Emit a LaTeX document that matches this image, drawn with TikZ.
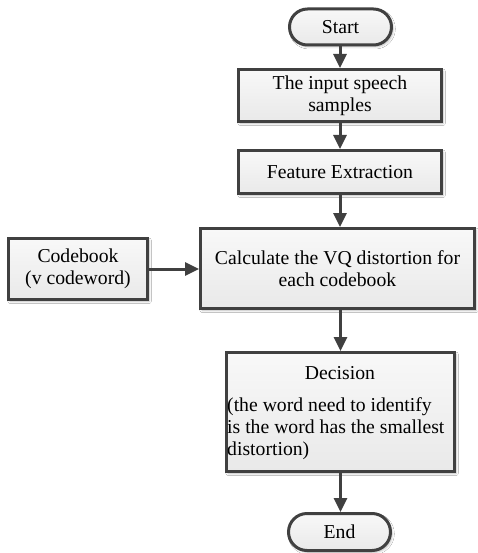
\documentclass[tikz,border=0pt]{standalone}
\usepackage{fontspec}
\setmainfont{Liberation Serif}
\usetikzlibrary{arrows.meta,shadows.blur,shapes.misc}
\definecolor{edge}{HTML}{404040}
\definecolor{boxtop}{HTML}{F8F8F8}
\definecolor{boxbot}{HTML}{E9E9E9}
\tikzset{
  base/.style={draw=edge, line width=3pt, top color=boxtop, bottom color=boxbot,
    blur shadow={shadow xshift=1.6pt, shadow yshift=-1.8pt, shadow blur radius=2.2pt, shadow opacity=28},
    font=\fontsize{19.7}{22}\selectfont, align=center, inner sep=0pt},
  procbox/.style={base, rectangle},
  term/.style={base, rounded rectangle},
  flow/.style={draw=edge, line width=3pt, -{Triangle[length=14pt,width=13pt]}},
  plain/.style={font=\fontsize{19.7}{22}\selectfont, inner sep=0pt}
}
\begin{document}
\begin{tikzpicture}[x=1pt,y=-1pt]
\useasboundingbox[fill=white] (0,0) rectangle (478,553);

% terminals and processing steps
\node[term, minimum width=102pt, minimum height=36pt] (start) at (340.5,27) {Start};
\node[procbox, minimum width=203pt, minimum height=52pt] (input) at (340,95.5) {The input speech\\samples};
\node[procbox, minimum width=203pt, minimum height=43pt] (feat) at (340,172) {Feature Extraction};
\node[procbox, minimum width=139pt, minimum height=61pt] (code) at (78,269) {Codebook\\(v codeword)};
\node[procbox, minimum width=274pt, minimum height=80pt] (calc) at (337.5,268.5) {Calculate the VQ distortion for\\each codebook};
\node[procbox, minimum width=228pt, minimum height=119pt] (dec) at (340.5,412) {};
\node[term, minimum width=102pt, minimum height=37pt] (end) at (339.5,532) {End};

% text of the decision step (base of a multi-line node is its last line)
\node[plain, anchor=base] (dectitle) at (340,379) {Decision};
\node[plain, anchor=base west, align=left] (decbody) at (227,455)
  {(the word need to identify\\is the word has the smallest\\distortion)};

% connectors
\draw[flow] (start.south -| input.north) -- (input.north);
\draw[flow] (input.south) -- (feat.north);
\draw[flow] (feat.south) -- (feat.south |- calc.north);
\draw[flow] (code.east) -- (code.east -| calc.west);
\draw[flow] (dec.north |- calc.south) -- (dec.north);
\draw[flow] (dec.south) -- (end.north -| dec.south);
\end{tikzpicture}
\end{document}
